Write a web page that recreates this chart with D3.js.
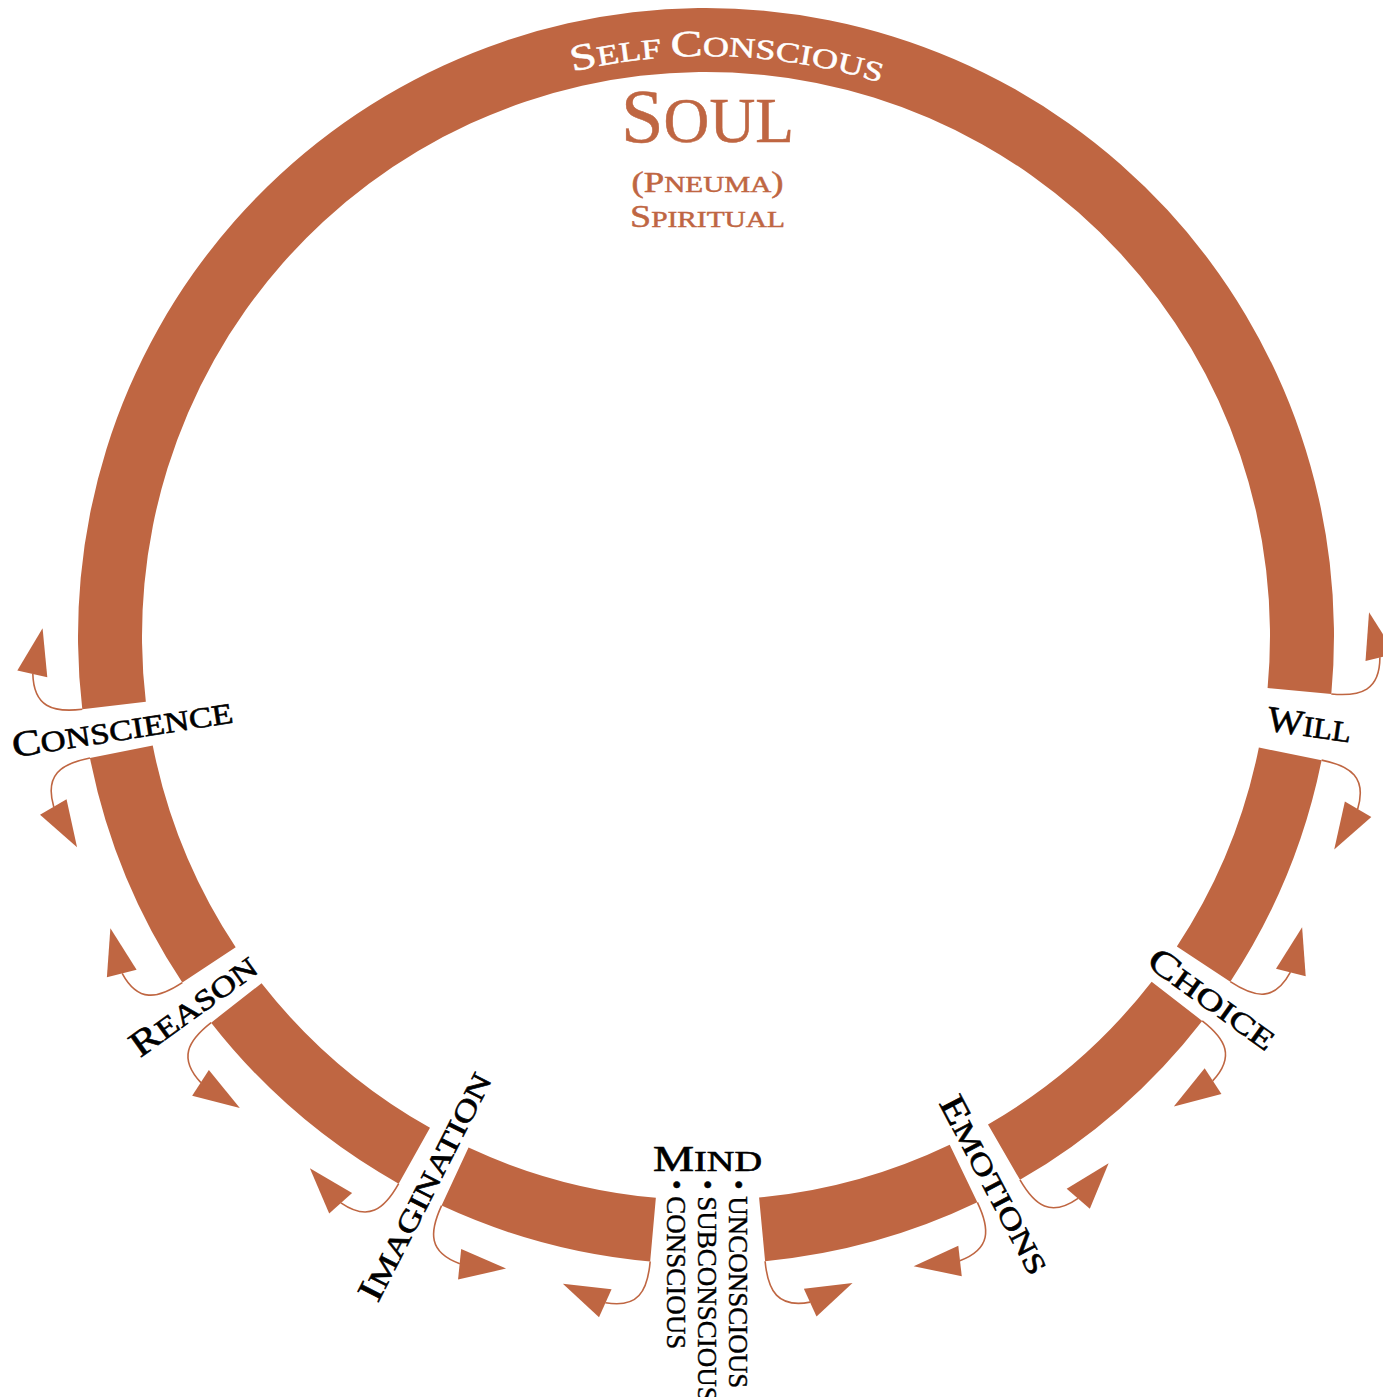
<!DOCTYPE html>
<html>
<head>
<meta charset="utf-8">
<script src="https://cdn.jsdelivr.net/npm/d3@7"></script>
<style>
  body { margin: 0; background: #fff; }
  svg { display: block; }
  text { white-space: pre; }
</style>
</head>
<body>
<svg id="chart" width="1383" height="1397"></svg>
<script>
// gaps in the ring (degrees, clockwise from 12 o'clock)
const gapNames = ["Will", "Choice", "Emotions", "Mind", "Imagination", "Reason", "Conscience"]
const gapStart = [95.3, 123.4, 150.0, 174.6, 204.9, 232.0, 258.8]
const gapEnd   = [101.4, 127.8, 154.4, 185.1, 209.3, 236.5, 263.3]
const mindParts = ["conscious", "subconscious", "unconscious"]
const soulLines = ["Soul", "(Pneuma)", "Spiritual"]
const arcTitle = "Self Conscious"

// layout
const cx = 706, cy = 636, rOut = 628, rIn = 564
const ink = "#bf6642"
const serif = "'Liberation Serif','Times New Roman',serif"
const big = 36, small = 29
const labelLen = {Will: 85, Choice: 149, Emotions: 197, Imagination: 252, Reason: 148, Conscience: 223}
const labelR = {Will: 610, Choice: 623, Emotions: 620, Imagination: 618, Reason: 632, Conscience: 591}
// arrow shape in a local frame (a = outward, b = along the ring away from the gap)
const curve = [[0, 0], [30, 0], [48, 8], [45, 41]]
const head = [[31, 36], [30, 85], [60, 46]]

const ang = d3.scaleLinear().domain([0, 360]).range([0, 2 * Math.PI])
const polar = (deg, r) => [r * Math.sin(ang(deg)), -r * Math.cos(ang(deg))]

const svg = d3.select("#chart")
const g = svg.append("g").attr("transform", `translate(${cx},${cy})`)

// split a word into capital / small-cap runs
function runs(word) {
  let out = []
  for (const ch of word) {
    const low = ch !== ch.toUpperCase() || ch === " "
    if (out.length && out[out.length - 1].low === low) out[out.length - 1].txt += ch
    else out.push({low, txt: ch})
  }
  return out
}
function capsText(sel, word, bs, ss) {
  sel.selectAll("tspan").data(runs(word)).join("tspan")
    .attr("font-size", d => d.low ? ss : bs)
    .text(d => d.txt.toUpperCase())
  return sel
}

// ring segments
const segs = gapNames.map((n, i) => ({
  start: gapEnd[i],
  end: i + 1 < gapNames.length ? gapStart[i + 1] : gapStart[0] + 360
}))
const arc = d3.arc().innerRadius(rIn).outerRadius(rOut)
g.selectAll("path.seg").data(segs).join("path")
  .attr("class", "seg")
  .attr("d", d => arc({startAngle: ang(d.start), endAngle: ang(d.end)}))
  .attr("fill", ink)

// arrows at every segment end
let arrows = []
gapNames.forEach((n, i) => {
  arrows.push({deg: gapStart[i], s: -1})
  arrows.push({deg: gapEnd[i], s: 1})
})
function frame(d) {
  const t = ang(d.deg)
  const E = polar(d.deg, rOut)
  const u = [Math.sin(t), -Math.cos(t)]
  const v = [d.s * Math.cos(t), d.s * Math.sin(t)]
  return ([a, b]) => [E[0] + a * u[0] + b * v[0], E[1] + a * u[1] + b * v[1]]
}
const ag = g.append("g")
ag.selectAll("path.stem").data(arrows).join("path")
  .attr("class", "stem")
  .attr("d", d => {
    const f = frame(d), p = curve.map(f), path = d3.path()
    path.moveTo(...p[0])
    path.bezierCurveTo(...p[1], ...p[2], ...p[3])
    return path.toString()
  })
  .attr("fill", "none").attr("stroke", ink).attr("stroke-width", 1.6)
ag.selectAll("path.head").data(arrows).join("path")
  .attr("class", "head")
  .attr("d", d => d3.line()(head.map(frame(d))) + "Z")
  .attr("fill", ink)

// gap labels
const labels = gapNames.map((n, i) => ({name: n, deg: (gapStart[i] + gapEnd[i]) / 2}))
labels.filter(d => d.name !== "Mind").forEach(d => {
  const [x, y] = polar(d.deg, labelR[d.name])
  const rot = d.deg < 180 ? d.deg - 90 : d.deg - 270
  const t = g.append("text")
    .attr("transform", `translate(${x},${y}) rotate(${rot})`)
    .attr("y", 12)
    .attr("text-anchor", "middle")
    .attr("font-family", serif)
    .attr("fill", "#000").attr("stroke", "#000").attr("stroke-width", 0.6)
    .attr("textLength", labelLen[d.name])
    .attr("lengthAdjust", "spacingAndGlyphs")
  capsText(t, d.name, big, small)
})

// Mind and its three levels
const mind = g.append("text")
  .attr("x", 1.5).attr("y", rIn - 29)
  .attr("text-anchor", "middle")
  .attr("font-family", serif)
  .attr("stroke", "#000").attr("stroke-width", 0.6)
  .attr("textLength", 109).attr("lengthAdjust", "spacingAndGlyphs")
capsText(mind, "Mind", 35, 29)

const px = d3.scalePoint().domain(mindParts).range([-39, 23])
g.selectAll("text.part").data(mindParts).join("text")
  .attr("class", "part")
  .attr("transform", d => `translate(${px(d)},${rIn - 20}) rotate(90)`)
  .attr("font-family", serif)
  .attr("font-size", 27)
  .attr("stroke", "#000").attr("stroke-width", 0.4)
  .text(d => "\u2022 " + d.toUpperCase())

// title on the top arc
const rT = 580
g.append("path").attr("id", "topArc")
  .attr("d", `M${-rT},0 A${rT},${rT} 0 0 1 ${rT},0`)
  .attr("fill", "none")
const tp = g.append("text")
  .attr("fill", "#fff").attr("stroke", "#fff").attr("stroke-width", 0.5)
  .attr("font-family", serif)
  .attr("text-anchor", "middle")
  .append("textPath")
  .attr("href", "#topArc")
  .attr("startOffset", ((90 + 2.1) / 180 * 100) + "%")
  .attr("textLength", 312)
  .attr("lengthAdjust", "spacingAndGlyphs")
capsText(tp, arcTitle, 37, 28)

// Soul block
const soulY = [-494, -444, -409]
const soulSize = [[76, 63], [29, 23], [31, 24]]
const soulLen = [173, 152, 155]
soulLines.forEach((s, i) => {
  const t = g.append("text")
    .attr("x", 1.5).attr("y", soulY[i])
    .attr("text-anchor", "middle")
    .attr("font-family", serif)
    .attr("fill", ink).attr("stroke", ink).attr("stroke-width", 0.5)
    .attr("textLength", soulLen[i]).attr("lengthAdjust", "spacingAndGlyphs")
  capsText(t, s, soulSize[i][0], soulSize[i][1])
})
</script>
</body>
</html>
